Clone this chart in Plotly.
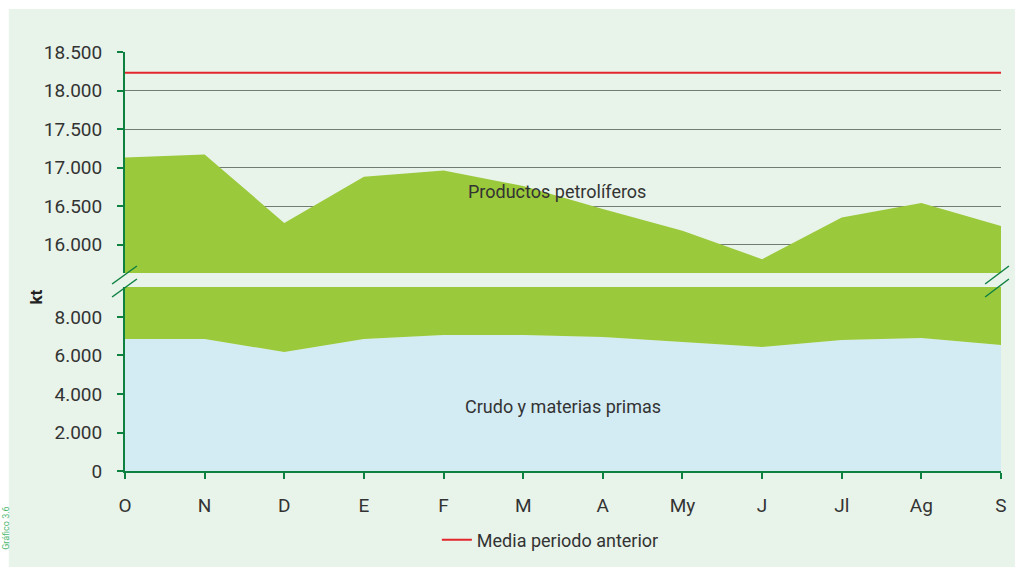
import plotly.graph_objects as go
from plotly.subplots import make_subplots

# Monthly consumption, kt (October to September)
months = ["O", "N", "D", "E", "F", "M", "A", "My", "J", "Jl", "Ag", "S"]
crudo = [6860, 6860, 6180, 6860, 7060, 7060, 6960, 6700, 6440, 6800, 6910, 6550]
productos = [10270, 10310, 10100, 10020, 9900, 9700, 9500, 9480, 9370, 9550, 9630, 9690]
media_anterior = 18230

upper_ticks = [16000, 16500, 17000, 17500, 18000, 18500]
lower_ticks = [0, 2000, 4000, 6000, 8000]

W, H = 1016, 567
ML, MR, MT, MB = 125, 9, 52, 96
PW, PH = W - ML - MR, H - MT - MB


def px(x):
    return (x - ML) / PW


def py(y):
    return (H - MB - y) / PH


FONT = "Roboto, Liberation Sans Narrow, sans-serif"
GREEN_AXIS = "#0E8040"
AREA_GREEN = "#9BC93C"
AREA_BLUE = "#D3ECF3"
PANEL = "#E8F3EA"
RED = "#E3262B"
TEXT = "#333333"

fig = make_subplots(rows=2, cols=1, shared_xaxes=True)

for row in (1, 2):
    fig.add_trace(go.Scatter(
        x=months, y=crudo, name="Crudo y materias primas", stackgroup="s%d" % row,
        mode="lines", line=dict(width=0), fillcolor=AREA_BLUE, showlegend=False,
        hoverinfo="skip"), row=row, col=1)
    fig.add_trace(go.Scatter(
        x=months, y=productos, name="Productos petrolíferos", stackgroup="s%d" % row,
        mode="lines", line=dict(width=0), fillcolor=AREA_GREEN, showlegend=False,
        hoverinfo="skip"), row=row, col=1)

fig.add_trace(go.Scatter(
    x=months, y=[media_anterior] * len(months), name="Media periodo anterior",
    mode="lines", line=dict(color=RED, width=2), showlegend=True), row=1, col=1)

axis_common = dict(
    showline=True, linecolor=GREEN_AXIS, linewidth=2,
    ticks="outside", tickcolor=GREEN_AXIS, ticklen=6, tickwidth=2,
    tickfont=dict(family=FONT, size=19, color=TEXT), zeroline=False,
)

fig.update_layout(
    xaxis=dict(range=[0, 11], showline=False, showticklabels=False, ticks="",
               showgrid=False, zeroline=False, type="category"),
    xaxis2=dict(range=[0, 11], type="category", showgrid=False,
                ticklabelstandoff=10, **axis_common),
    yaxis=dict(domain=[py(273), 1], range=[15630, 18500], tickvals=upper_ticks,
               tickformat=",d", showgrid=True, gridcolor="#737C73", gridwidth=1,
               ticklabelstandoff=11, layer="below traces", **axis_common),
    yaxis2=dict(domain=[0, py(287)], range=[0, 9558], tickvals=lower_ticks,
                tickformat=",d", showgrid=False, ticklabelstandoff=11,
                **axis_common),
)

shapes = [
    # light panel behind the chart
    dict(type="rect", xref="paper", yref="paper", layer="below",
         x0=px(8), x1=px(W + 5), y0=py(H + 5), y1=py(9),
         fillcolor=PANEL, line=dict(width=0)),
]
# axis break marks (left and right)
for x0, x1 in ((112, 137), (991, 1015)):
    for ya, yb in ((284, 266), (297, 279)):
        shapes.append(dict(type="line", xref="paper", yref="paper",
                           x0=px(x0), y0=py(ya), x1=px(x1), y1=py(yb),
                           line=dict(color=GREEN_AXIS, width=1.5)))


def label(text, x, y, size=18, color=TEXT, angle=0):
    return dict(text=text, xref="paper", yref="paper", x=px(x), y=py(y),
                xanchor="center", yanchor="middle", textangle=angle,
                showarrow=False, font=dict(family=FONT, size=size, color=color))


annotations = [
    label("Productos petrolíferos", 560, 191),
    label("Crudo y materias primas", 566, 406),
    label("<b>kt</b>", 35, 297, size=17, color="#222222", angle=-90),
    label("Gráfico 3.6", 5, 528, size=9, color="#4DB870", angle=-90),
]

fig.update_layout(
    width=W, height=H,
    margin=dict(l=ML, r=MR, t=MT, b=MB),
    paper_bgcolor="white", plot_bgcolor=PANEL,
    separators=",.",
    shapes=shapes, annotations=annotations,
    showlegend=True,
    legend=dict(orientation="h", x=px(439), xanchor="left", y=py(540),
                yanchor="middle", bgcolor="rgba(0,0,0,0)",
                font=dict(family=FONT, size=18, color=TEXT)),
)

fig.write_html("out.html")
